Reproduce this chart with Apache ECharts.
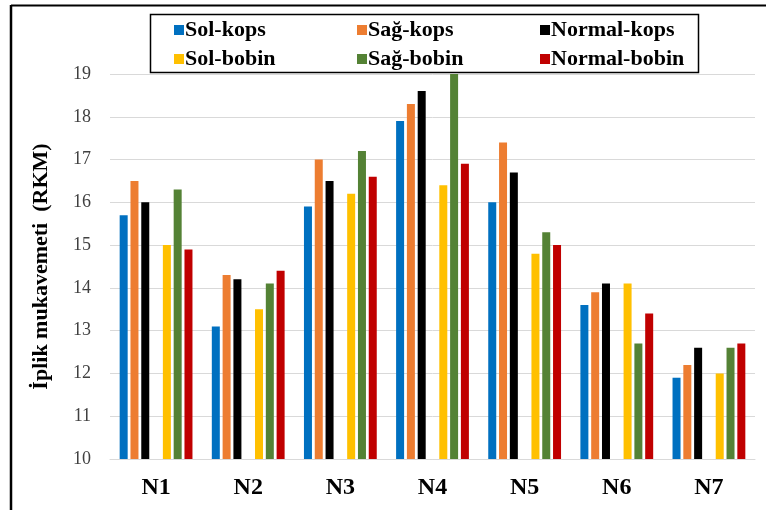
<!DOCTYPE html>
<html>
<head>
<meta charset="utf-8">
<script src="https://cdn.jsdelivr.net/npm/echarts@6/dist/echarts.min.js"></script>
<style>
  html, body { margin: 0; padding: 0; background: #fff; }
  #chart { width: 766px; height: 510px; }
</style>
</head>
<body>
<div id="chart"></div>
<script>
// kategoriler
var categories = ['N1', 'N2', 'N3', 'N4', 'N5', 'N6', 'N7'];
// seri değerleri (RKM)
var solKops = [15.7, 13.1, 15.9, 17.9, 16.0, 13.6, 11.9];
var sagKops = [16.5, 14.3, 17.0, 18.3, 17.4, 13.9, 12.2];
var normalKops = [16.0, 14.2, 16.5, 18.6, 16.7, 14.1, 12.6];
var solBobin = [15.0, 13.5, 16.2, 16.4, 14.8, 14.1, 12.0];
var sagBobin = [16.3, 14.1, 17.2, 19.0, 15.3, 12.7, 12.6];
var normalBobin = [14.9, 14.4, 16.6, 16.9, 15.0, 13.4, 12.7];
var yTicks = [10, 11, 12, 13, 14, 15, 16, 17, 18, 19];

var serif = '"Liberation Serif", "DejaVu Serif", serif';

function barSeries(name, data, color) {
    return {
        name: name,
        type: 'bar',
        data: data,
        barWidth: 8,
        barGap: '35%',
        itemStyle: { color: color },
        emphasis: { disabled: true }
    };
}

// boş seri: kops ve bobin grupları arasındaki boşluk
var blank = categories.map(function () { return '-'; });

function legendCol(left, names) {
    return {
        orient: 'vertical',
        left: left,
        top: 14,
        itemWidth: 10,
        itemHeight: 10,
        itemGap: 7,
        icon: 'rect',
        data: names,
        selectedMode: false,
        textStyle: {
            fontFamily: serif,
            fontWeight: 'bold',
            fontSize: 22,
            lineHeight: 22,
            color: '#000',
            padding: [0, 0, 0, -4]
        }
    };
}

var myChart = echarts.init(document.getElementById('chart'), null, { renderer: 'canvas' });
myChart.setOption({
    animation: false,
    backgroundColor: '#fff',
    grid: { left: 110, right: 11, top: 74, bottom: 51 },
    legend: [
        legendCol(169, ['Sol-kops', 'Sol-bobin']),
        legendCol(352, ['Sağ-kops', 'Sağ-bobin']),
        legendCol(535, ['Normal-kops', 'Normal-bobin'])
    ],
    graphic: [
        // legend çerçevesi
        { type: 'rect', left: 148, top: 12, shape: { width: 548, height: 58 },
          style: { fill: null, stroke: '#000', lineWidth: 1.5 }, z: 10 },
        // dış çerçeve
        { type: 'line', shape: { x1: 11, y1: 5.5, x2: 766, y2: 5.5 },
          style: { stroke: '#000', lineWidth: 2 } },
        { type: 'line', shape: { x1: 11, y1: 5, x2: 11, y2: 510 },
          style: { stroke: '#000', lineWidth: 2.5 } }
    ],
    xAxis: {
        type: 'category',
        data: categories,
        axisTick: { show: false },
        axisLine: { lineStyle: { color: '#d9d9d9', width: 1 } },
        axisLabel: {
            margin: 17,
            fontFamily: serif,
            fontWeight: 'bold',
            fontSize: 24,
            color: '#000'
        }
    },
    yAxis: {
        type: 'value',
        min: yTicks[0],
        max: yTicks[yTicks.length - 1],
        interval: 1,
        name: 'İplik mukavemeti  (RKM)',
        nameLocation: 'middle',
        nameGap: 58,
        nameTextStyle: {
            fontFamily: serif,
            fontWeight: 'bold',
            fontSize: 22,
            color: '#000'
        },
        axisLine: { show: false },
        axisTick: { show: false },
        splitLine: { lineStyle: { color: '#d9d9d9', width: 1 } },
        axisLabel: {
            margin: 19,
            fontFamily: serif,
            fontSize: 18,
            color: '#404040'
        }
    },
    series: [
        barSeries('Sol-kops', solKops, '#0070C0'),
        barSeries('Sağ-kops', sagKops, '#ED7D31'),
        barSeries('Normal-kops', normalKops, '#000000'),
        barSeries('', blank, 'transparent'),
        barSeries('Sol-bobin', solBobin, '#FFC000'),
        barSeries('Sağ-bobin', sagBobin, '#548235'),
        barSeries('Normal-bobin', normalBobin, '#C00000')
    ]
});
</script>
</body>
</html>
